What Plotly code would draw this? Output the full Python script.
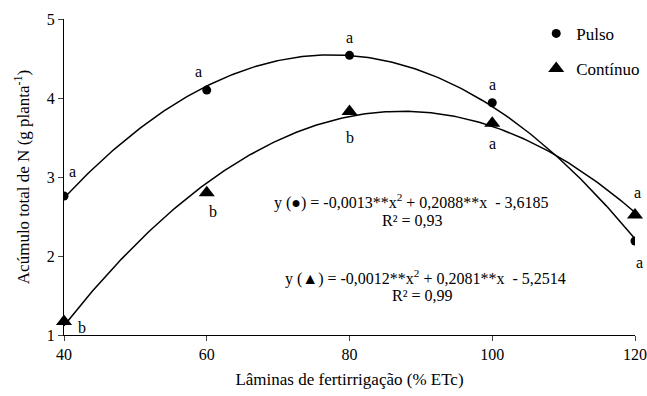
import numpy as np
import plotly.graph_objects as go

laminas = [40, 60, 80, 100, 120]
pulso = [2.76, 4.10, 4.54, 3.94, 2.19]
continuo = [1.17, 2.80, 3.83, 3.68, 2.52]
letras_pulso = ["a", "a", "a", "a", "a"]
letras_continuo = ["b", "b", "b", "a", "a"]

FONT = "Liberation Serif, Times New Roman, serif"

xs = np.linspace(40, 120, 200)
cp = np.polyfit(laminas, pulso, 2)
cc = np.polyfit(laminas, continuo, 2)

fig = go.Figure()
fig.add_trace(go.Scatter(x=xs, y=np.polyval(cp, xs), mode="lines",
                         line=dict(color="black", width=1.5), showlegend=False, hoverinfo="skip"))
fig.add_trace(go.Scatter(x=xs, y=np.polyval(cc, xs), mode="lines",
                         line=dict(color="black", width=1.5), showlegend=False, hoverinfo="skip"))
fig.add_trace(go.Scatter(x=laminas, y=pulso, mode="markers", name="Pulso", legendgroup="p",
                         marker=dict(symbol="circle", size=9, color="black")))
fig.add_trace(go.Scatter(x=laminas, y=continuo, mode="markers", name="Contínuo", legendgroup="c",
                         marker=dict(symbol="triangle-up", size=14, color="black"),
                         cliponaxis=False))

# letter annotations (offsets in pixels)
off_p = [(8, -24), (-8, -19), (0, -18), (0, -18), (4, 22)]
off_c = [(18, 6), (6, 19), (0, 26), (0, 20), (2, -22)]
for x, y, t, (dx, dy) in zip(laminas, pulso, letras_pulso, off_p):
    fig.add_annotation(x=x, y=y, text=t, showarrow=False, xshift=dx, yshift=-dy,
                       font=dict(family=FONT, size=16, color="black"))
for x, y, t, (dx, dy) in zip(laminas, continuo, letras_continuo, off_c):
    fig.add_annotation(x=x, y=y, text=t, showarrow=False, xshift=dx, yshift=-dy,
                       font=dict(family=FONT, size=16, color="black"))

eq_font = dict(family=FONT, size=16, color="black")


def px_to_domain(px, py):
    return (px - 64) / 571, (335 - py) / 316


for (px, py), txt in [((411, 201), "y (●) = -0,0013**x<sup>2</sup> + 0,2088**x  - 3,6185"),
                      ((412, 220), "R² = 0,93"),
                      ((425, 277), "y (▲) = -0,0012**x<sup>2</sup> + 0,2081**x  - 5,2514"),
                      ((422, 295), "R² = 0,99")]:
    dx, dy = px_to_domain(px, py)
    fig.add_annotation(x=dx, y=dy, xref="x domain", yref="y domain", text=txt,
                       showarrow=False, font=eq_font, xanchor="center", yanchor="middle")

fig.update_layout(
    width=647, height=396,
    margin=dict(l=64, r=12, t=19, b=61, autoexpand=False),
    paper_bgcolor="white", plot_bgcolor="white",
    font=dict(family=FONT, size=15, color="black"),
    legend=dict(x=0.827, y=1.01, xanchor="left", yanchor="top",
                font=dict(family=FONT, size=17), bgcolor="rgba(0,0,0,0)",
                itemwidth=30, tracegroupgap=10),
    xaxis=dict(range=[40, 120], tickvals=laminas, ticks="outside", ticklen=5,
               showline=True, linecolor="black", linewidth=1, showgrid=False, zeroline=False,
               tickfont=dict(family=FONT, size=16),
               title=dict(text="Lâminas de fertirrigação (% ETc)", font=dict(family=FONT, size=17), standoff=10)),
    yaxis=dict(range=[1, 5], dtick=1, ticks="outside", ticklen=5,
               showline=True, linecolor="black", linewidth=1, showgrid=False, zeroline=False,
               tickfont=dict(family=FONT, size=16),
               title=dict(text="Acúmulo total de N (g planta<sup>-1</sup>)", font=dict(family=FONT, size=17), standoff=12)),
)

fig.write_html("out.html")
